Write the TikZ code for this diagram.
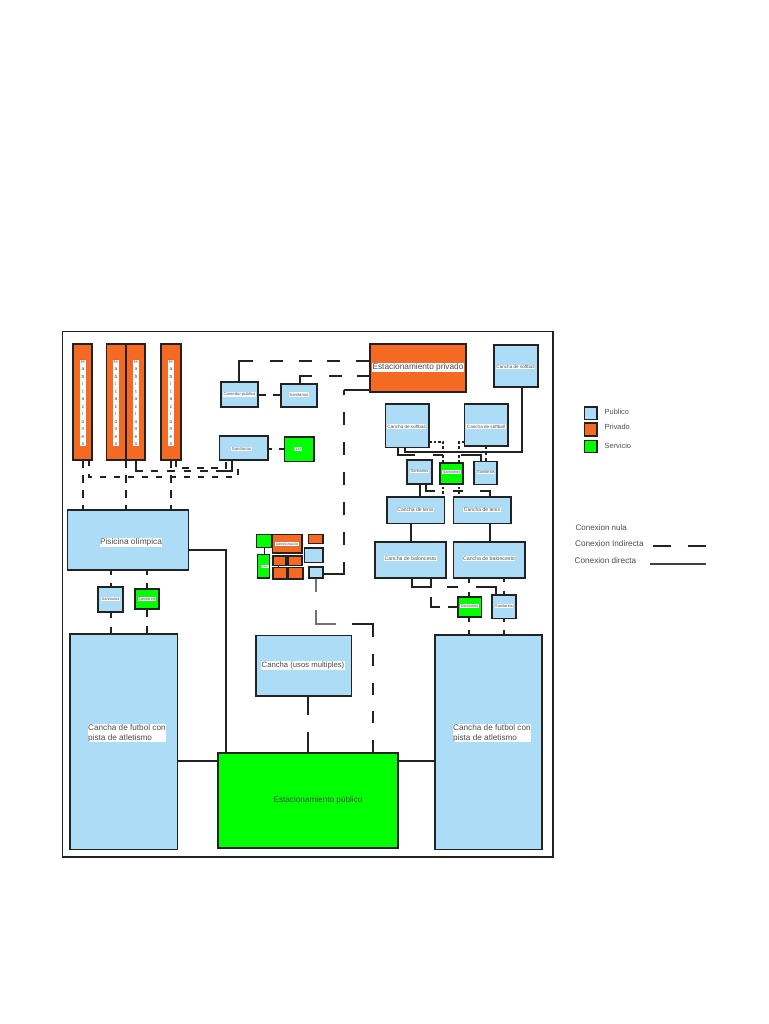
\documentclass[tikz,border=0pt]{standalone}
\usepackage{fontspec}
\setmainfont{Liberation Sans}
\definecolor{pub}{HTML}{ADDCF7}
\definecolor{pri}{HTML}{F56A22}
\definecolor{ser}{HTML}{00FF00}
\definecolor{ln}{HTML}{222222}
\tikzset{
 x=1pt,y=-1pt,
 room/.style={draw=ln,line width=1.4pt,inner sep=0pt,outer sep=0pt},
 pubroom/.style={room,fill=pub},
 priroom/.style={room,fill=pri},
 serroom/.style={room,fill=ser},
 lbl/.style={fill=white,inner sep=0.5pt,text=black!70,align=left},
 direct/.style={draw=ln,line width=1.3pt},
 dots/.style={draw=ln,line width=1.3pt,dash pattern=on 2.5pt off 2pt},
 legtext/.style={text=black!70,anchor=west,inner sep=0pt},
}
\newcommand{\rbox}[6]{% name style x0 y0 x1 y1
 \path[#2] (#3,#4) rectangle (#5,#6);
 \coordinate (#1) at ({(#3+#5)/2},{(#4+#6)/2});
}
\begin{document}
\begin{tikzpicture}
\useasboundingbox (0,0) rectangle (768,1024);
\fill[white] (0,0) rectangle (768,1024);
\draw[draw=ln,line width=1.4pt] (62.5,331.5) rectangle (553,857);

% upper left connectors
\foreach \x in {83,126,171}{\draw[direct,dash pattern=on 7.5pt off 7.5pt] (\x,460)--(\x,510);}
\draw[direct,dash pattern=on 6pt off 8pt] (89,460)--(89,477)--(238,477)--(238,460);
\draw[direct] (136,460)--(136,471)--(143,471);
\draw[direct,dash pattern=on 7.5pt off 9pt] (150.5,471)--(215,471);
\draw[direct] (215.5,471)--(232,471)--(232,460);
\draw[direct,dash pattern=on 7pt off 7.3pt] (176,460)--(176,468)--(226,468)--(226,460);
\draw[direct] (239,382)--(239,361)--(253,361);
\draw[direct,dash pattern=on 13pt off 15.5pt] (270,361)--(370,361);
\draw[direct] (300,384)--(300,376)--(312,376);
\draw[direct,dash pattern=on 13pt off 15pt] (329,376)--(370,376);
\draw[direct] (258,395)--(266,395) (273,395)--(281,395);
\draw[direct] (268,449)--(272,449) (279,449)--(284,449);
\draw[direct] (323,574)--(344,574)--(344,562);
\draw[direct,dash pattern=on 13pt off 17pt] (344,545)--(344,390);
\draw[direct] (344,390)--(370,390);
\draw[direct] (189,550)--(226,550)--(226,753);
\draw[direct,dash pattern=on 5pt off 8pt] (111,570)--(111,587);
\draw[direct,dash pattern=on 5pt off 8pt] (147,570)--(147,589);
\draw[direct,dash pattern=on 6pt off 9pt] (111,612)--(111,634);
\draw[direct,dash pattern=on 8pt off 9pt] (147,609)--(147,634);
\draw[direct] (178,761)--(218,761);
\draw[direct] (398,761)--(435,761);
\draw[direct] (308,696)--(308,715) (308,732)--(308,753);
\draw[draw=black!55,line width=1.3pt] (316,578)--(316,592) (316,610)--(316,624)--(336,624);
\draw[direct] (352,624)--(373,624)--(373,637);
\draw[direct,dash pattern=on 12pt off 16.6pt] (373,654)--(373,753);

% right connectors
\draw[direct] (405,447)--(405,452)--(522,452)--(522,387);
\draw[direct] (398,447)--(398,455)--(415,455);
\draw[direct] (433,455)--(443,455);
\draw[direct] (461,455)--(481,455)--(481,461);
\draw[dots] (429,442)--(443,442)--(443,497);
\draw[dots] (464,442)--(459,442)--(459,497);
\draw[direct,dash pattern=on 3pt off 3pt] (486,446)--(486,461);
\draw[direct] (420,484)--(420,497);
\draw[direct] (426,484)--(426,491)--(435,491);
\draw[direct] (453,491)--(463,491);
\draw[direct] (480,491)--(490,491)--(490,497);
\draw[direct] (411,524)--(411,542);
\draw[direct] (490,524)--(490,542);
\draw[direct] (412,578)--(412,587)--(431,587)--(431,578);
\draw[direct] (447,587)--(458,587);
\draw[direct] (476,587)--(496,587)--(496,595);
\draw[direct] (431,597)--(431,607)--(440,607);
\draw[direct] (448,607)--(458,607);
\draw[direct] (469,578)--(469,583) (469,592)--(469,597) (469,617)--(469,622) (469,630)--(469,635);
\draw[direct] (504,578)--(504,582) (504,591)--(504,595) (504,618)--(504,622) (504,630)--(504,635);

% cluster connectors
\draw[draw=ln,line width=0.8pt] (264,547)--(264,555);
\draw[draw=ln,line width=0.8pt] (278,565)--(278,568);

% rooms
\rbox{h1}{priroom}{73}{344}{92}{460}
\rbox{h2}{priroom}{106.5}{344}{126}{460}
\rbox{h3}{priroom}{126}{344}{145}{460}
\rbox{h4}{priroom}{161}{344}{181}{460}
\foreach \x in {83,116,136,171}{
 \node[lbl,font=\fontsize{5}{7.5}\selectfont,align=center,text width=4.6pt] at (\x,403) {H\\a\\b\\i\\t\\a\\c\\i\\o\\n\\e\\s};
}
\rbox{a}{pubroom}{221}{382}{258}{407}
\node[lbl,font=\fontsize{4.2}{5}\selectfont] at (239.5,394.5) {Comedor publico};
\rbox{b}{pubroom}{281}{384}{317}{407}
\node[lbl,font=\fontsize{4.3}{5}\selectfont] at (299,394.5) {Sanitarios};
\rbox{c}{pubroom}{219.5}{436}{268}{460}
\node[lbl,font=\fontsize{4.3}{5}\selectfont] at (241.5,449) {Sanitarios};
\rbox{d}{serroom}{284.5}{437}{314}{461.5}
\node[lbl,font=\fontsize{4.3}{5}\selectfont] at (298,449) {Gas};
\rbox{e}{priroom}{370}{344}{466}{392}
\node[lbl,font=\fontsize{8.3}{10}\selectfont] at (418,367.5) {Estacionamiento privado};
\rbox{f}{pubroom}{494}{345}{538}{387}
\node[lbl,font=\fontsize{4.6}{6}\selectfont] at (515.5,367) {Cancha de softball};
\rbox{g}{pubroom}{385.5}{404}{429}{447.5}
\node[lbl,font=\fontsize{4.6}{6}\selectfont] at (406.5,426.5) {Cancha de softball};
\rbox{h}{pubroom}{464.5}{404}{508}{446}
\node[lbl,font=\fontsize{4.6}{6}\selectfont] at (486,426.5) {Cancha de softball};
\rbox{i}{pubroom}{407}{460}{432}{484}
\node[lbl,font=\fontsize{4}{5}\selectfont] at (419.5,471.5) {Sanitarios};
\rbox{j}{serroom}{440}{463}{463}{484}
\node[lbl,font=\fontsize{4}{5}\selectfont] at (451.5,472) {Sanitarios};
\rbox{k}{pubroom}{474}{461.5}{497}{484.5}
\node[lbl,font=\fontsize{4}{5}\selectfont] at (486,472.5) {Sanitarios};
\rbox{l}{pubroom}{387}{497}{444.5}{523.5}
\node[lbl,font=\fontsize{5}{6}\selectfont] at (415.5,510) {Cancha de tenis};
\rbox{m}{pubroom}{453.5}{497}{511}{523.5}
\node[lbl,font=\fontsize{5}{6}\selectfont] at (482,510) {Cancha de tenis};
\rbox{n}{pubroom}{375}{542}{446}{578}
\node[lbl,font=\fontsize{5.2}{6}\selectfont] at (410.5,558.5) {Cancha de baloncesto};
\rbox{o}{pubroom}{453.5}{542}{525}{578}
\node[lbl,font=\fontsize{5.2}{6}\selectfont] at (489,558.5) {Cancha de baloncesto};
\rbox{q}{serroom}{458}{597}{481.5}{617}
\node[lbl,font=\fontsize{4}{5}\selectfont] at (469.5,606) {Sanitarios};
\rbox{r}{pubroom}{492}{595}{516}{618.5}
\node[lbl,font=\fontsize{4}{5}\selectfont] at (504,606) {Sanitarios};
\rbox{s}{pubroom}{67.5}{510}{188.5}{570}
\node[lbl,font=\fontsize{8.3}{10}\selectfont] at (131,542.5) {Pisicina olímpica};
\rbox{t}{pubroom}{98}{587}{123}{612}
\node[lbl,font=\fontsize{4}{5}\selectfont] at (110.5,599) {Sanitarios};
\rbox{u}{serroom}{135}{589}{159}{609}
\node[lbl,font=\fontsize{4}{5}\selectfont] at (147,599) {Sanitarios};
\rbox{v}{pubroom}{70}{634}{177.5}{849.5}
\node[lbl,font=\fontsize{8.2}{10.2}\selectfont,anchor=west] at (87.5,733) {Cancha de futbol con\\pista de atletismo};
\rbox{w}{pubroom}{435}{635}{542}{849.5}
\node[lbl,font=\fontsize{8.2}{10.2}\selectfont,anchor=west] at (452.5,733) {Cancha de futbol con\\pista de atletismo};
\rbox{x}{pubroom}{256}{635.5}{351.5}{696}
\node[lbl,font=\fontsize{7.7}{9}\selectfont] at (303,665.5) {Cancha (usos multiples)};
\rbox{y}{serroom}{218}{753}{398}{848}
\node[font=\fontsize{8.2}{10}\selectfont,text=black!70,inner sep=0pt] at (318,800.5) {Estacionamiento público};

% small cluster
\rbox{c1}{serroom}{256.5}{534.5}{272}{547.5}
\rbox{c2}{priroom}{272.5}{534.5}{302}{553}
\node[lbl,font=\fontsize{3.4}{3.4}\selectfont] at (287,544) {Administración};
\rbox{c3}{serroom}{257.5}{554.5}{269.5}{578}
\node[lbl,font=\fontsize{2.6}{3}\selectfont] at (265,566.5) {Baños};
\rbox{c4}{priroom}{273}{556}{286}{565.5}
\rbox{c5}{priroom}{288}{556}{302}{565.5}
\rbox{c6}{priroom}{273}{567.5}{286.5}{579}
\rbox{c7}{priroom}{288}{567.5}{303}{579}
\rbox{c8}{priroom}{308.5}{534.5}{323}{543.5}
\rbox{c9}{pubroom}{304.5}{548}{323}{562.5}
\rbox{c10}{pubroom}{309}{567}{323}{578}

% legend
\rbox{l1}{pubroom}{584.5}{407}{597}{419.5}
\rbox{l2}{priroom}{584.5}{423}{597}{436}
\rbox{l3}{serroom}{584.5}{440.5}{597}{452.5}
\node[legtext,font=\fontsize{7.4}{9}\selectfont] (t1) at (604.5,411.5) {Publico};
\node[legtext,font=\fontsize{7.4}{9}\selectfont] (t2) at (604.5,427) {Privado};
\node[legtext,font=\fontsize{7.4}{9}\selectfont] (t3) at (604.5,445.5) {Servicio};
\node[legtext,font=\fontsize{8}{9}\selectfont] (t4) at (575.5,527.5) {Conexion nula};
\node[legtext,font=\fontsize{8.2}{9}\selectfont] (t5) at (575,543.5) {Conexion Indirecta};
\node[legtext,font=\fontsize{8.2}{9}\selectfont] (t6) at (574.5,560.5) {Conexion directa};
\coordinate (d1) at (653,546); \coordinate (d2) at (706,546);
\draw[direct,dash pattern=on 18pt off 16.5pt] (d1)--(d2);
\coordinate (d3) at (650,564); \coordinate (d4) at (706,564);
\draw[direct,draw=black!75] (d3)--(d4);
\end{tikzpicture}
\end{document}
